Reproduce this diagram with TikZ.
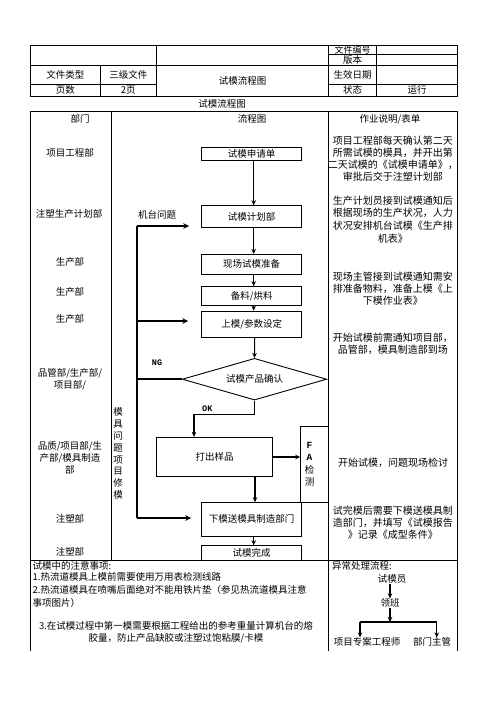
\documentclass[tikz,border=0pt]{standalone}
\usepackage{fontspec}
\setmainfont{Noto Sans CJK SC}
\newfontfamily\tagfont{Liberation Mono}
\usetikzlibrary{arrows.meta,shapes.geometric}

\begin{document}
\begin{tikzpicture}[x=1pt, y=-1pt,
        every node/.style={font=\fontsize{9.5}{12}\selectfont, inner sep=0pt},
        grid/.style={line width=0.8pt},
        box/.style={draw, line width=0.9pt, minimum width=100pt},
        arr/.style={-{Stealth[length=5pt,width=4.5pt]}, line width=1.1pt},
        loopline/.style={line width=1.5pt},
        looparr/.style={loopline, -{Stealth[length=6pt,width=5.5pt]}},
        note/.style={align=center, font=\fontsize{10}{12}\selectfont}]
    \useasboundingbox[fill=white] (0,0) rectangle (496,702);

    % header table
    \draw[grid] (30.7,45.7) rectangle (457.3,96);
    \draw[grid] (328.3,54.3) -- (457.3,54.3);
    \draw[grid] (30.7,65.7) -- (457.3,65.7);
    \draw[grid] (30.7,84.3) -- (156.7,84.3) (328.3,84.3) -- (457.3,84.3);
    \draw[grid] (100,65.7) -- (100,96) (156.7,45.7) -- (156.7,96)
        (328.3,45.7) -- (328.3,96) (376.7,45.7) -- (376.7,96);
    \node (doc no) at (352.5,50) {\fontsize{9}{9}\selectfont 文件编号};
    \node (version) at (352.5,60) {版本};
    \node (doc type) at (65.3,75) {文件类型};
    \node (level) at (128.3,75) {三级文件};
    \node (head title) at (242.5,81) {试模流程图};
    \node (date) at (352.5,75) {生效日期};
    \node (pages) at (65.3,90.3) {页数};
    \node (page no) at (128.3,90.3) {2页};
    \node (state) at (352.5,90.3) {状态};
    \node (running) at (417,90.3) {运行};
    \node (title) at (222,104) {试模流程图};

    % main table
    \draw[grid] (30.7,651) -- (30.7,111.7) -- (457.3,111.7) -- (457.3,651);
    \draw[grid] (111,111.7) -- (111,560.3);
    \draw[grid] (328.3,111.7) -- (328.3,651);
    \draw[grid] (30.7,560.3) -- (457.3,560.3);
    \node (h dept) at (80,119) {部门};
    \node (h flow) at (252,119) {流程图};
    \node (h desc) at (390,119) {作业说明/表单};

    % departments
    \node (d1) at (70,153) {项目工程部};
    \node (d2) at (69,214) {注塑生产计划部};
    \node (d3) at (70,262) {生产部};
    \node (d4) at (70,292) {生产部};
    \node (d5) at (70,319) {生产部};
    \node[align=center] (d6) at (70,379) {品管部/生产部/\\项目部/};
    \node[align=center] (d7) at (70,458) {品质/项目部/生\\产部/模具制造\\部};
    \node (d8) at (70,519) {注塑部};
    \node (d9) at (70,552) {注塑部};

    % flow
    \node[box, minimum height=13.4pt] (apply) at (251.7,154) {试模申请单};
    \node[box, minimum height=22pt] (plan) at (251.7,216.7) {试模计划部};
    \node[box, minimum height=20pt] (prep) at (251.7,264.3) {现场试模准备};
    \node[box, minimum height=19pt] (feed) at (251.7,296.2) {备料/烘料};
    \node[box, minimum height=26.3pt] (load) at (251.7,324.2) {上模/参数设定};
    \node[draw, line width=0.9pt, diamond, aspect=3.46, minimum width=144.4pt,
        minimum height=41.7pt] (check) at (254.5,379.2) {试模产品确认};
    \node[box, minimum width=116pt, minimum height=39.4pt] (sample) at (214.7,457) {打出样品};
    \node[draw, line width=0.9pt, minimum width=27.6pt, minimum height=76.7pt] (fa) at (314.5,464.3) {};
    \node[align=center, font=\fontsize{9.5}{12.3}\selectfont] (fa text) at ([xshift=-5pt]fa.center)
        {{\tagfont\bfseries F}\\{\tagfont\bfseries A}\\检\\测};
    \node[box, minimum height=33.3pt] (unload) at (251.7,519.3) {下模送模具制造部门};
    \node[box, minimum height=14.6pt] (done) at (251.7,553) {试模完成};

    \coordinate (sample out) at ([xshift=40.3pt]sample.south);
    \draw[arr] ([xshift=2pt]apply.south) -- ([xshift=2pt]plan.north);
    \draw[arr] ([xshift=2pt]plan.south) -- ([xshift=2pt]prep.north);
    \draw[arr] ([xshift=2pt]prep.south) -- ([xshift=2pt]feed.north);
    \draw[arr] ([xshift=2pt]feed.south) -- ([xshift=2pt]load.north);
    \draw[arr] ([xshift=3pt]load.south) -- (check.north);
    \draw[arr] (check.south) -- ++(0,14) -| ([xshift=-20.7pt]sample.north);
    \draw[arr] (sample.east) -- (fa.west |- sample.east);
    \draw[arr] (sample out) -- (sample out |- unload.north);
    \draw[arr] ([xshift=2pt]unload.south) -- ([xshift=2pt]done.north);
    \node (ok) at (207.3,408.3) {\tagfont\bfseries\fontsize{8.5}{9}\selectfont OK};
    \node (ng) at (157,362.5) {\tagfont\bfseries\fontsize{8.5}{9}\selectfont NG};
    \node (machine) at (157,214.5) {机台问题};
    \node[align=center, font=\fontsize{9.5}{11.9}\selectfont] (mold) at (118,453.5)
        {模\\具\\问\\题\\项\\目\\修\\模};

    % rework loop
    \coordinate (loop top) at (137,226);
    \coordinate (loop mid) at (137,321);
    \coordinate (loop bot) at (137,518);
    \draw[loopline] (check.west) -- (check.west -| loop top);
    \draw[loopline] (loop top) -- (loop bot);
    \draw[looparr] (loop top) -- ([xshift=-12pt]plan.west |- loop top);
    \draw[looparr] (loop mid) -- ([xshift=-13pt]load.west |- loop mid);
    \draw[looparr] (loop bot) -- ([xshift=-10pt]unload.west |- loop bot);

    % descriptions
    \node[note] (t1) at (392.8,159) {项目工程部每天确认第二天\\所需试模的模具，并开出第\\二天试模的《试模申请单》，\\审批后交于注塑计划部};
    \node[note, font=\fontsize{10}{12.6}\selectfont] (t2) at (392.8,219.5) {生产计划员接到试模通知后\\根据现场的生产状况，人力\\状况安排机台试模《生产排\\机表》};
    \node[note] (t3) at (392.8,289) {现场主管接到试模通知需安\\排准备物料，准备上模《上\\下模作业表》};
    \node[note] (t4) at (392.8,344) {开始试模前需通知项目部，\\品管部，模具制造部到场};
    \node[note] (t5) at (393,463) {开始试模，问题现场检讨};
    \node[note] (t6) at (392.8,523) {试完模后需要下模送模具制\\造部门，并填写《试模报告\\》记录《成型条件》};

    % notes
    \node[anchor=west] (n0) at (32.5,566) {试模中的注意事项:};
    \node[anchor=west] (n1) at (32.5,577) {1.热流道模具上模前需要使用万用表检测线路};
    \node[anchor=west] (n2) at (32.5,590) {2.热流道模具在喷嘴后面绝对不能用铁片垫（参见热流道模具注意};
    \node[anchor=west] (n2b) at (32.5,603) {事项图片）};
    \node[align=center] (n3) at (176,632) {3.在试模过程中第一模需要根据工程给出的参考重量计算机台的熔\\胶量，防止产品缺胶或注塑过饱粘膜/卡模};

    % exception handling
    \node[anchor=west] (exc) at (332,566) {异常处理流程:};
    \node (op) at (392,579) {试模员};
    \node (lead) at (390,603) {领班};
    \node (eng) at (367,642) {项目专案工程师};
    \node (mgr) at (432,642) {部门主管};
    \coordinate (split) at (390,622);
    \coordinate (split l) at (360,622);
    \coordinate (split r) at (436.7,622);
    \draw[arr] (lead.north |- op.south) -- (lead.north);
    \draw[arr] (lead.south) -- (split);
    \draw[line width=1.1pt] (split l) -- (split r);
    \draw[arr] (split l) -- (split l |- eng.north);
    \draw[arr] (split r) -- (split r |- mgr.north);
\end{tikzpicture}
\end{document}
